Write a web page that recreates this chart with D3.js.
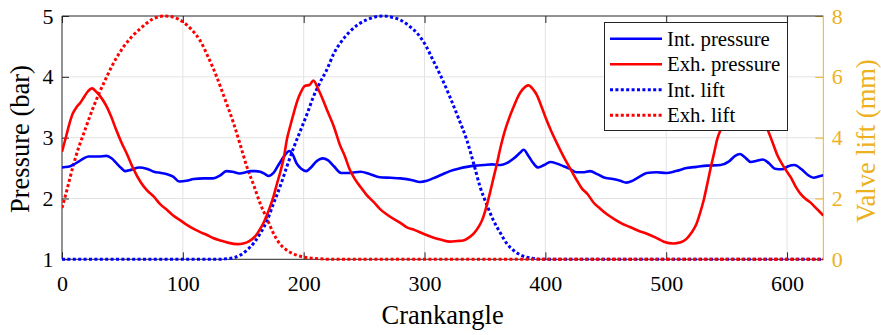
<!DOCTYPE html>
<html><head><meta charset="utf-8">
<script src="https://cdn.jsdelivr.net/npm/d3@7"></script>
<style>
body{margin:0;background:#fff}
svg text{font-family:"Liberation Serif","Times New Roman",serif !important}
</style>
</head><body><svg id="chart" width="881" height="335"></svg>
<script>
// ---------- data ----------
const crankTicks = [0,100,200,300,400,500,600];
const pressureTicks = [1,2,3,4,5];
const liftTicks = [0,2,4,6,8];
const legendLabels = ["Int. pressure","Exh. pressure","Int. lift","Exh. lift"];

const intPressureAngle = [0,5,9,14,18,22,30,37,41,45,49,52,57,64,70,76,82,87,92,97,103,109,117,125,131,136,141,147,152,156,160,164,168,171,175,180,184,188,191,194,198,202,206,210,216,220,225,231,238,247,255,263,272,280,290,296,302,307,314,321,328,335,342,349,356,363,368,374,379,382,386,390,394,399,404,410,415,420,426,431,437,443,448,456,462,467,472,478,484,492,500,508,517,525,534,545,552,557,561,565,570,575,580,585,590,596,601,606,612,617,622,626,630];
const intPressure = [2.51,2.52,2.55,2.61,2.66,2.69,2.69,2.70,2.66,2.58,2.50,2.45,2.47,2.51,2.49,2.44,2.42,2.40,2.36,2.28,2.29,2.32,2.33,2.33,2.38,2.45,2.44,2.41,2.43,2.45,2.45,2.44,2.40,2.37,2.42,2.58,2.70,2.78,2.72,2.58,2.49,2.45,2.51,2.60,2.66,2.63,2.53,2.42,2.42,2.44,2.40,2.35,2.34,2.33,2.30,2.27,2.29,2.33,2.39,2.45,2.49,2.52,2.54,2.55,2.56,2.55,2.58,2.66,2.75,2.80,2.70,2.58,2.51,2.55,2.60,2.57,2.53,2.49,2.43,2.43,2.45,2.40,2.35,2.32,2.29,2.26,2.29,2.36,2.42,2.43,2.42,2.45,2.50,2.52,2.54,2.55,2.61,2.70,2.73,2.68,2.60,2.62,2.64,2.58,2.49,2.48,2.53,2.55,2.48,2.39,2.34,2.36,2.38];

const exhPressureAngle = [0,3,6,9,12,15,18,21,25,28,32,37,41,45,49,54,59,65,70,76,81,87,92,98,103,109,114,120,125,131,138,145,150,155,160,164,167,171,175,178,181,184,186,189,192,195,198,201,205,208,212,216,220,225,230,234,238,242,247,252,258,263,268,274,280,285,292,299,307,314,321,327,332,337,341,345,348,351,354,357,360,363,366,370,374,378,381,386,390,393,397,401,405,410,414,418,422,426,430,435,440,445,451,457,463,470,477,484,491,498,506,512,517,521,525,528,531,534,537,540,542,546,550,555,560,564,569,574,579,583,588,592,598,603,607,611,615,619,624,630];
const exhPressure = [2.77,2.99,3.22,3.40,3.50,3.57,3.66,3.75,3.81,3.76,3.67,3.51,3.33,3.12,2.93,2.72,2.49,2.27,2.14,2.03,1.91,1.81,1.72,1.64,1.57,1.50,1.45,1.40,1.35,1.31,1.27,1.25,1.26,1.30,1.38,1.50,1.61,1.80,2.03,2.25,2.46,2.72,2.96,3.20,3.42,3.62,3.76,3.85,3.87,3.94,3.80,3.62,3.42,3.18,2.88,2.70,2.48,2.33,2.19,2.06,1.94,1.83,1.75,1.67,1.60,1.53,1.48,1.42,1.36,1.32,1.29,1.30,1.31,1.36,1.43,1.54,1.66,1.85,2.08,2.33,2.58,2.85,3.08,3.32,3.52,3.70,3.79,3.86,3.79,3.70,3.50,3.29,3.10,2.89,2.73,2.58,2.44,2.30,2.17,2.07,1.93,1.84,1.74,1.66,1.59,1.53,1.47,1.42,1.36,1.29,1.26,1.28,1.34,1.44,1.58,1.76,1.97,2.24,2.52,2.78,2.96,3.18,3.45,3.72,3.86,3.88,3.75,3.55,3.35,3.18,2.92,2.71,2.50,2.35,2.20,2.08,2.00,1.94,1.84,1.72];

const intLiftAngle = [0,130,136,142,148,153,159,164,170,175,181,186,192,197,203,208,214,219,225,231,238,245,252,259,266,273,280,287,294,301,307,314,321,328,335,341,346,352,357,363,368,375,382,390,400,630];
const intLift = [0,0,0.02,0.05,0.15,0.30,0.55,0.85,1.30,1.83,2.45,3.04,3.70,4.20,4.80,5.34,5.85,6.22,6.77,7.15,7.48,7.72,7.87,7.97,8.00,7.96,7.87,7.68,7.43,7.03,6.55,5.98,5.34,4.65,3.92,3.10,2.38,1.75,1.28,0.85,0.52,0.25,0.10,0.03,0,0];

const exhLiftAngle = [0,4,9,14,18,26,37,44,51,58,65,75,85,93,100,107,114,121,128,135,142,148,153,159,164,170,175,180,186,194,202,212,225,630];
const exhLift = [1.69,2.27,3.04,3.70,4.14,5.01,6.00,6.55,6.99,7.33,7.59,7.90,8.00,7.95,7.81,7.56,7.21,6.65,6.00,5.25,4.47,3.70,3.04,2.40,1.83,1.30,0.85,0.52,0.30,0.14,0.06,0.02,0,0];

// ---------- layout ----------
const L = 62, R = 823.3, T = 16, B = 259.3;
const ink = "#262626", orange = "#EDB120";
const serif = "'Liberation Serif','Times New Roman',serif";
const svg = d3.select("#chart");
const x = d3.scaleLinear().domain([0,630]).range([L,R]);
const yP = d3.scaleLinear().domain([1,5]).range([B,T]);
const yL = d3.scaleLinear().domain([0,8]).range([B,T]);
const fmt = d3.format("d");
const solidW = 2.6, dotW = 3, dotDash = "3,2.4";

svg.append("defs").append("clipPath").attr("id","clip")
  .append("rect").attr("x",L).attr("y",T-2).attr("width",R-L).attr("height",B-T+4);

// grid
const grid = svg.append("g").attr("stroke","#e3e3e3").attr("stroke-width",1);
crankTicks.slice(1).forEach(t => grid.append("line").attr("x1",x(t)).attr("x2",x(t)).attr("y1",T).attr("y2",B));
pressureTicks.slice(1,-1).forEach(t => grid.append("line").attr("x1",L).attr("x2",R).attr("y1",yP(t)).attr("y2",yP(t)));

// axes
const fsTick = 22;
const gx = svg.append("g").attr("transform",`translate(0,${B})`)
  .call(d3.axisBottom(x).tickValues(crankTicks).tickFormat(fmt).tickSizeInner(-7).tickSizeOuter(0).tickPadding(16.5));
const gxt = svg.append("g").attr("transform",`translate(0,${T})`)
  .call(d3.axisTop(x).tickValues(crankTicks).tickSizeInner(-7).tickSizeOuter(0).tickFormat(""));
const gy = svg.append("g").attr("transform",`translate(${L},0)`)
  .call(d3.axisLeft(yP).tickValues(pressureTicks).tickFormat(fmt).tickSizeInner(-7).tickSizeOuter(0).tickPadding(8.5));
const gyr = svg.append("g").attr("transform",`translate(${R},0)`)
  .call(d3.axisRight(yL).tickValues(liftTicks).tickFormat(fmt).tickSizeInner(-8).tickSizeOuter(0).tickPadding(8.5));
[gx,gxt,gy,gyr].forEach(g => {
  g.attr("font-family",serif).attr("font-size",fsTick);
  g.selectAll(".tick text").style("font-family",serif).style("font-size",fsTick+"px");
});
[gx,gxt,gy].forEach(g => {
  g.select(".domain").remove();
  g.selectAll(".tick line").attr("stroke",ink).attr("stroke-width",1);
  g.selectAll(".tick text").attr("fill","#000");
});
gyr.select(".domain").remove();
gyr.selectAll(".tick line").attr("stroke",orange).attr("stroke-width",1);
gyr.selectAll(".tick text").attr("fill",orange);

// frame
svg.append("line").attr("x1",L).attr("x2",R).attr("y1",T).attr("y2",T).attr("stroke",ink);
svg.append("line").attr("x1",L).attr("x2",R).attr("y1",B).attr("y2",B).attr("stroke",ink);
svg.append("line").attr("x1",L).attr("x2",L).attr("y1",T).attr("y2",B).attr("stroke",ink);
svg.append("line").attr("x1",R).attr("x2",R).attr("y1",T).attr("y2",B).attr("stroke",orange);

// lines
const plot = svg.append("g").attr("clip-path","url(#clip)");
function draw(angles, vals, yScale, color, dotted){
  const data = angles.map((a,i)=>[a,vals[i]]);
  const line = d3.line().x(d=>x(d[0])).y(d=>yScale(d[1])).curve(d3.curveMonotoneX);
  plot.append("path").datum(data).attr("d",line).attr("fill","none")
    .attr("stroke",color).attr("stroke-width",dotted?dotW:solidW)
    .attr("stroke-dasharray",dotted?dotDash:null).attr("stroke-linejoin","round");
}
draw(intLiftAngle,intLift,yL,"#0000ff",true);
draw(exhLiftAngle,exhLift,yL,"#ff0000",true);
draw(intPressureAngle,intPressure,yP,"#0000ff",false);
draw(exhPressureAngle,exhPressure,yP,"#ff0000",false);

// axis labels
svg.append("text").attr("x",(L+R)/2).attr("y",324).attr("text-anchor","middle")
  .attr("font-family",serif).attr("font-size",26.5).attr("fill","#000").text("Crankangle");
svg.append("text").attr("transform","translate(29,139) rotate(-90)").attr("text-anchor","middle")
  .attr("font-family",serif).attr("font-size",26.5).attr("fill","#000").text("Pressure (bar)");
svg.append("text").attr("transform","translate(875,141) rotate(-90)").attr("text-anchor","middle")
  .attr("font-family",serif).attr("font-size",26.5).attr("fill",orange).text("Valve lift (mm)");

// legend
const lg = svg.append("g");
lg.append("rect").attr("x",604.5).attr("y",22.5).attr("width",183).attr("height",108)
  .attr("fill","#fff").attr("stroke",ink).attr("stroke-width",1);
const legColors = ["#0000ff","#ff0000","#0000ff","#ff0000"];
const legDotted = [false,false,true,true];
legendLabels.forEach((lab,i)=>{
  const yy = 38.8 + i*25.5;
  lg.append("line").attr("x1",610).attr("x2",662).attr("y1",yy).attr("y2",yy)
    .attr("stroke",legColors[i]).attr("stroke-width",legDotted[i]?dotW:solidW)
    .attr("stroke-dasharray",legDotted[i]?dotDash:null);
  lg.append("text").attr("x",667).attr("y",yy).attr("dy","0.33em")
    .attr("font-family",serif).attr("font-size",20.8).attr("fill","#000").text(lab);
});
</script>
</body></html>
